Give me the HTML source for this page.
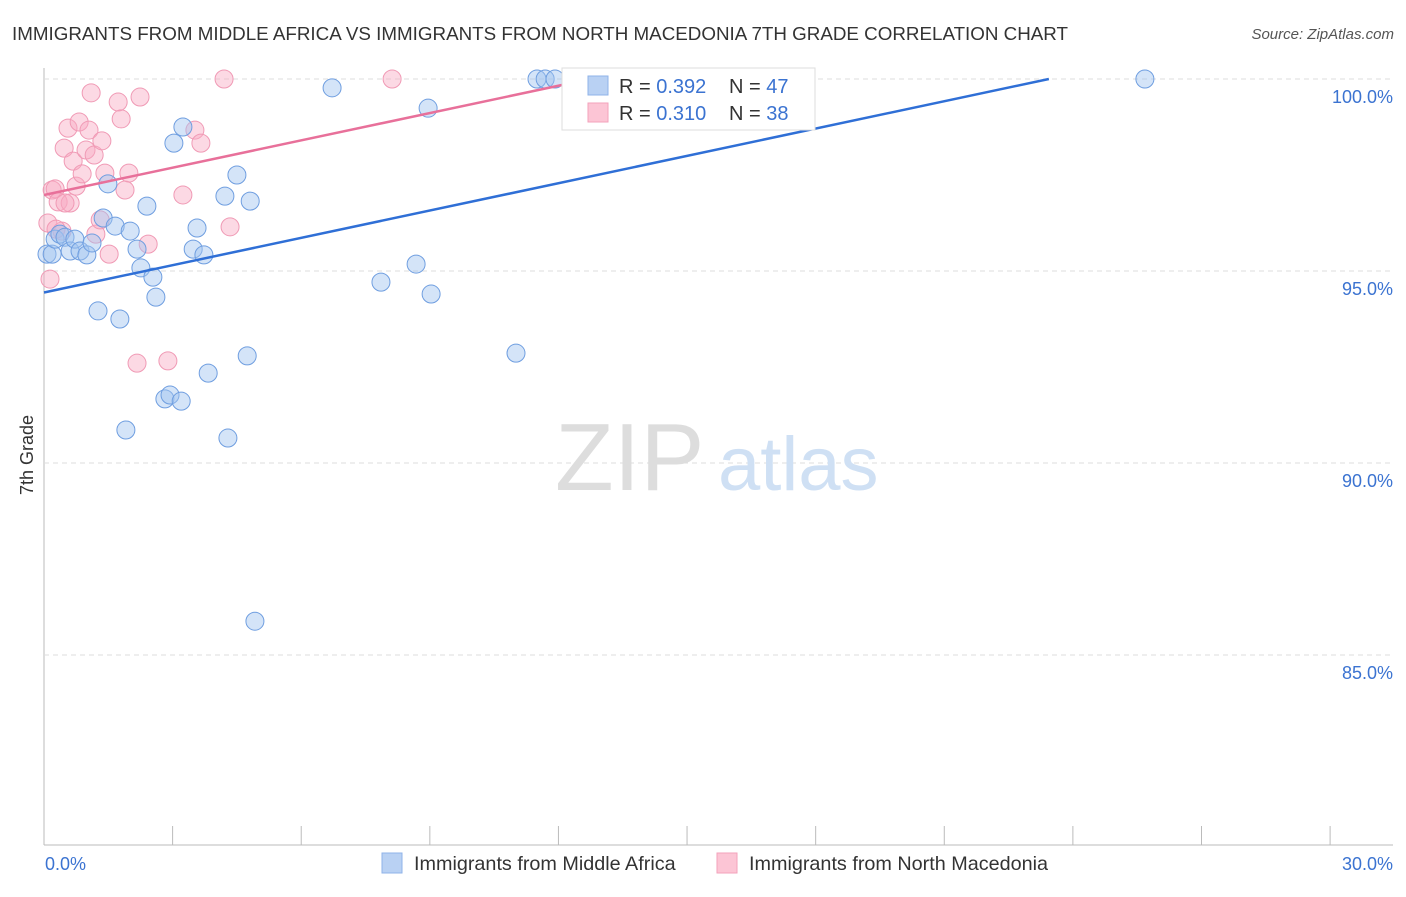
<!DOCTYPE html>
<html><head><meta charset="utf-8"><style>
body{margin:0;background:#fff;font-family:"Liberation Sans",sans-serif;}
svg text{font-family:"Liberation Sans",sans-serif;}
</style></head><body>
<svg id="chart" width="1406" height="892" xmlns="http://www.w3.org/2000/svg">
<text x="12" y="40" font-size="18.8" fill="#333">IMMIGRANTS FROM MIDDLE AFRICA VS IMMIGRANTS FROM NORTH MACEDONIA 7TH GRADE CORRELATION CHART</text>
<text x="1394" y="39" font-size="15" fill="#555" font-style="italic" text-anchor="end">Source: ZipAtlas.com</text>
<text x="33" y="455" font-size="18" fill="#333" transform="rotate(-90 33 455)" text-anchor="middle">7th Grade</text>
<g id="grid"></g>
<text x="555" y="490" font-size="96" fill="#ddd" font-family="Liberation Serif">ZIP</text>
<text x="718" y="490" font-size="76" fill="#cfe0f4">atlas</text>
<g id="pts"></g>
<g id="lines"></g>
<g>
<rect x="562" y="68" width="253" height="62" fill="#fff" stroke="#ddd"/>
<rect x="588" y="76" width="20" height="19" fill="#b9d1f3" stroke="#8fb3e8"/>
<rect x="588" y="103" width="20" height="19" fill="#fcc5d5" stroke="#f3a2bb"/>
<text x="619" y="93" font-size="20" fill="#333">R = <tspan fill="#3b73d1">0.392</tspan></text>
<text x="729" y="93" font-size="20" fill="#333">N = <tspan fill="#3b73d1">47</tspan></text>
<text x="619" y="120" font-size="20" fill="#333">R = <tspan fill="#3b73d1">0.310</tspan></text>
<text x="729" y="120" font-size="20" fill="#333">N = <tspan fill="#3b73d1">38</tspan></text>
</g>
<g>
<rect x="382" y="853" width="20" height="20" fill="#b9d1f3" stroke="#8fb3e8"/>
<text x="414" y="870" font-size="19.8" fill="#333">Immigrants from Middle Africa</text>
<rect x="717" y="853" width="20" height="20" fill="#fcc5d5" stroke="#f3a2bb"/>
<text x="749" y="870" font-size="19.8" fill="#333">Immigrants from North Macedonia</text>
</g>
</svg>
<script>
const yTicks=[100,95,90,85];
const xTickLabels=["0.0%","30.0%"];
const blueX=[0.07,0.19,0.26,0.37,0.49,0.61,0.72,0.84,1.0,1.12,1.26,1.38,1.49,1.66,1.77,1.91,2.01,2.17,2.26,2.40,2.54,2.61,2.82,2.94,3.03,3.20,3.24,3.48,3.57,3.73,3.83,4.22,4.29,4.50,4.74,4.81,4.92,6.72,7.86,8.68,8.96,9.03,11.01,11.50,11.69,11.92,25.68];
const blueY=[95.44,95.44,95.83,95.96,95.88,95.52,95.83,95.52,95.42,95.73,93.96,96.38,97.27,96.17,93.75,90.86,96.04,95.57,95.08,96.69,94.84,94.32,91.67,91.77,98.33,91.61,98.75,95.57,96.12,95.42,92.34,96.95,90.65,97.5,92.79,96.82,85.88,99.77,94.71,95.18,99.24,94.4,92.86,100,100,100,100];
const pinkX=[0.14,0.09,0.19,0.26,0.33,0.42,0.47,0.56,0.61,0.68,0.75,0.82,0.89,0.98,1.05,1.10,1.17,1.21,1.31,1.35,1.42,1.52,1.73,1.80,1.89,1.98,2.17,2.24,2.43,2.89,3.24,3.52,3.66,4.20,4.34,8.12,0.49,0.28];
const pinkY=[94.79,96.25,97.11,97.14,96.8,96.04,98.2,98.72,96.77,97.86,97.21,98.88,97.53,98.15,98.67,99.64,98.02,95.96,96.33,98.39,97.55,95.44,99.4,98.96,97.11,97.55,92.6,99.53,95.7,92.66,96.98,98.67,98.33,100,96.15,100,96.77,96.09];
const ns="http://www.w3.org/2000/svg";
const X=v=>44+v*42.87, Y=v=>79+(100-v)*38.4;
const grid=document.getElementById('grid');
function mk(t,a,p){const e=document.createElementNS(ns,t);for(const k in a)e.setAttribute(k,a[k]);p.appendChild(e);return e;}
mk('line',{x1:44,y1:68,x2:44,y2:845,stroke:'#bbb'},grid);
mk('line',{x1:44,y1:845,x2:1393,y2:845,stroke:'#bbb'},grid);
yTicks.forEach(t=>{
 const l=mk('line',{x1:44,y1:Y(t),x2:1393,y2:Y(t),stroke:'#ddd','stroke-dasharray':'5,4'},grid);
 
 
 const tx=mk('text',{x:1393,y:Y(t)+24,'font-size':18,fill:'#3b73d1','text-anchor':'end'},grid);
 tx.textContent=t.toFixed(1)+'%';
 
 
});
for(let i=0;i<=10;i++){
 const x=X(i*3);
 const t=mk('line',{x1:x,y1:826,x2:x,y2:845,stroke:'#bbb'},grid);
 
 
}
const xl0=mk('text',{x:45,y:870,'font-size':18,fill:'#3b73d1'},grid);xl0.textContent=xTickLabels[0];


const xl1=mk('text',{x:1393,y:870,'font-size':18,fill:'#3b73d1','text-anchor':'end'},grid);xl1.textContent=xTickLabels[1];


const pts=document.getElementById('pts');
pinkX.forEach((v,i)=>{const c=mk('circle',{cx:X(v),cy:Y(pinkY[i]),r:9,fill:'rgba(249,170,195,0.45)',stroke:'#f09ab5','stroke-width':1},pts);
 
 });
blueX.forEach((v,i)=>{const c=mk('circle',{cx:X(v),cy:Y(blueY[i]),r:9,fill:'rgba(160,195,240,0.45)',stroke:'#6f9ee0','stroke-width':1},pts);
 
 });
const lines=document.getElementById('lines');
const bl=mk('line',{x1:X(0),y1:Y(94.44),x2:X(23.44),y2:Y(100),stroke:'#2f6fd6','stroke-width':2.5},lines);


const pl=mk('line',{x1:X(0),y1:Y(96.98),x2:X(12.74),y2:Y(100),stroke:'#e8709a','stroke-width':2.5},lines);


</script>
</body></html>
